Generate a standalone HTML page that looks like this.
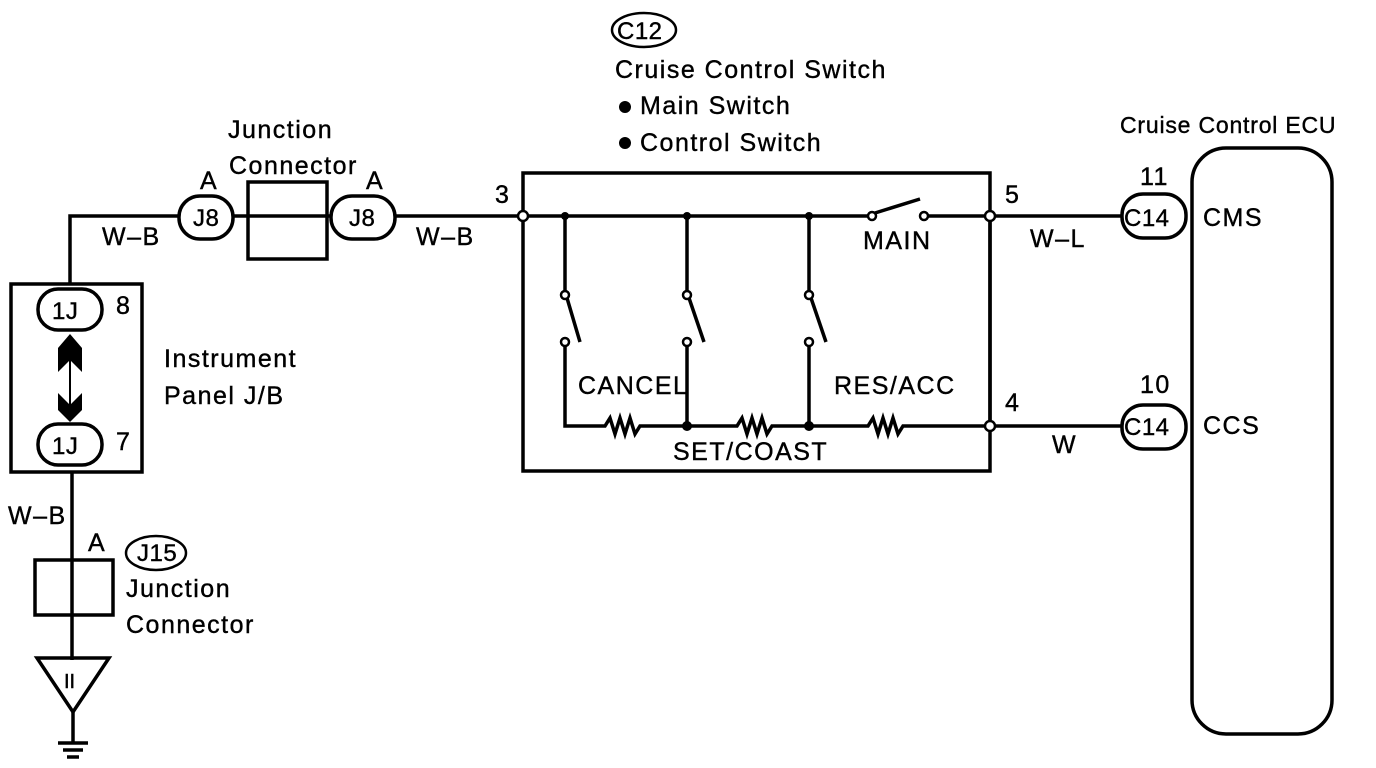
<!DOCTYPE html>
<html><head><meta charset="utf-8"><style>
html,body{margin:0;padding:0;background:#fff;}
svg{display:block;}
text{font-family:"Liberation Sans",Arial,sans-serif;font-size:25px;letter-spacing:1.5px;fill:#000;stroke:#000;stroke-width:0.4px;}
text.s{font-size:23px;letter-spacing:0.8px;}
text.o{font-size:24px;letter-spacing:0.5px;}
</style></head><body>
<svg width="1376" height="768" viewBox="0 0 1376 768" xmlns="http://www.w3.org/2000/svg">
<g fill="none" stroke="#000" stroke-width="3.5">
<polyline points="70,283 70,216 180,216"/>
<rect x="179" y="196" width="54" height="43" rx="21"/>
<rect x="248" y="182" width="79" height="77"/>
<line x1="233" y1="216" x2="331" y2="216"/>
<rect x="331" y="196" width="64" height="43" rx="21"/>
<line x1="395" y1="216" x2="519" y2="216"/>
<rect x="11" y="284" width="131" height="188"/>
<rect x="38" y="289" width="64" height="41" rx="20"/>
<rect x="38" y="424" width="64" height="41" rx="20"/>
<line x1="70" y1="340" x2="70" y2="415" stroke-width="2"/>
<line x1="72" y1="472" x2="72" y2="660"/>
<rect x="35" y="560" width="78" height="55"/>
<polygon points="37,658 109,658 73,712"/>
<line x1="73" y1="712" x2="73" y2="742"/>
<line x1="58" y1="743" x2="88" y2="743"/>
<line x1="63" y1="750" x2="83" y2="750"/>
<line x1="67" y1="757" x2="79" y2="757"/>
<rect x="523" y="173" width="467" height="298"/>
<line x1="527" y1="216" x2="872" y2="216"/>
<line x1="928" y1="216" x2="986" y2="216"/>
<line x1="875" y1="213" x2="920" y2="199"/>
<line x1="990" y1="220" x2="990" y2="422"/>
<line x1="994" y1="216" x2="1122" y2="216"/>
<line x1="994" y1="426" x2="1122" y2="426"/>
<line x1="565" y1="216" x2="565" y2="291"/>
<line x1="687" y1="216" x2="687" y2="291"/>
<line x1="809" y1="216" x2="809" y2="291"/>
<line x1="567" y1="298" x2="580" y2="342"/>
<line x1="689" y1="298" x2="704" y2="342"/>
<line x1="811" y1="298" x2="826" y2="342"/>
<polyline points="565,346 565,426 605,426 610,418 615,434 620,418 625,434 630,418 635,434 640,426 687,426"/>
<line x1="687" y1="346" x2="687" y2="426"/>
<line x1="809" y1="346" x2="809" y2="426"/>
<polyline points="687,426 737,426 742,418 747,434 752,418 757,434 762,418 767,434 772,426 809,426 868,426 873,418 878,434 883,418 888,434 893,418 898,434 903,426 986,426"/>
<rect x="1192" y="148" width="140" height="586" rx="34"/>
<rect x="1122" y="194" width="64" height="44" rx="21"/>
<rect x="1122" y="405" width="64" height="44" rx="21"/>
<ellipse cx="644" cy="30" rx="32" ry="17" stroke-width="2.5"/>
<ellipse cx="156" cy="553" rx="30" ry="17" stroke-width="2.5"/>
</g>
<g fill="#fff" stroke="#000" stroke-width="2.5">
<circle cx="523" cy="216" r="5"/><circle cx="990" cy="216" r="5"/><circle cx="990" cy="426" r="5"/>
<circle cx="872" cy="216" r="4"/><circle cx="924" cy="216" r="4"/>
<circle cx="565" cy="295" r="4"/><circle cx="687" cy="295" r="4"/><circle cx="809" cy="295" r="4"/>
<circle cx="565" cy="342" r="4"/><circle cx="687" cy="342" r="4"/><circle cx="809" cy="342" r="4"/>
</g>
<g fill="#000">
<circle cx="565" cy="216" r="4"/><circle cx="687" cy="216" r="4"/><circle cx="809" cy="216" r="4"/>
<circle cx="687" cy="426" r="5"/><circle cx="809" cy="426" r="5"/>
<polygon points="58,348 70,334 82,348 82,372 70,360 58,372"/>
<polygon points="58,393 70,405 82,393 82,410 70,422 58,410"/>
<circle cx="625" cy="107" r="6"/><circle cx="625" cy="143" r="6"/>
</g>
<text class="o" x="617" y="39">C12</text>
<text x="615" y="78">Cruise Control Switch</text>
<text x="640" y="114">Main Switch</text>
<text x="640" y="151">Control Switch</text>
<text class="s" x="1120" y="133">Cruise Control ECU</text>
<text x="228" y="138">Junction</text>
<text x="229" y="174">Connector</text>
<text x="200" y="189">A</text>
<text x="366" y="189">A</text>
<text class="o" x="193" y="226">J8</text>
<text class="o" x="349" y="226">J8</text>
<text x="102" y="245">W–B</text>
<text x="416" y="245">W–B</text>
<text x="495" y="203">3</text>
<text x="1005" y="203">5</text>
<text x="1005" y="411">4</text>
<text x="1030" y="247">W–L</text>
<text x="1052" y="453">W</text>
<text x="863" y="249">MAIN</text>
<text x="578" y="394">CANCEL</text>
<text x="834" y="394">RES/ACC</text>
<text x="673" y="460">SET/COAST</text>
<text x="1140" y="185">11</text>
<text x="1140" y="393">10</text>
<text class="o" x="1124" y="226">C14</text>
<text class="o" x="1124" y="435">C14</text>
<text x="1203" y="226">CMS</text>
<text x="1203" y="434">CCS</text>
<text class="o" x="52" y="319">1J</text>
<text class="o" x="52" y="454">1J</text>
<text x="116" y="314">8</text>
<text x="116" y="450">7</text>
<text x="164" y="367">Instrument</text>
<text x="164" y="404">Panel J/B</text>
<text x="8" y="524">W–B</text>
<text x="88" y="551">A</text>
<text class="o" x="137" y="561">J15</text>
<text x="126" y="597">Junction</text>
<text x="126" y="633">Connector</text>
<text x="64" y="688" style="font-size:20px;letter-spacing:0">II</text>
</svg>
</body></html>
